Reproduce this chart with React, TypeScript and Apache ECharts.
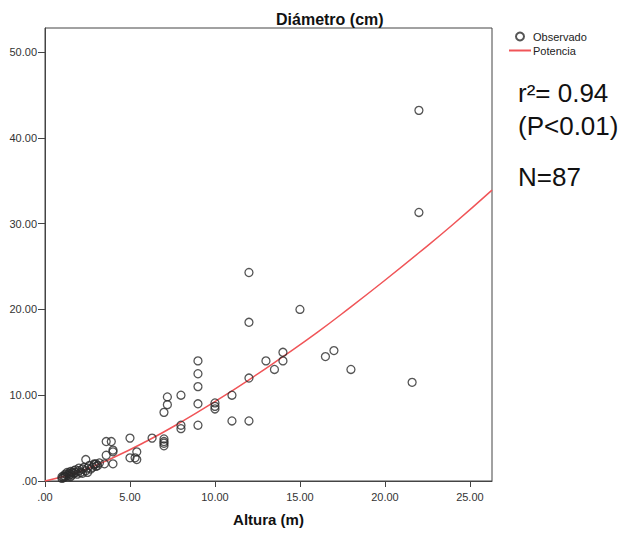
import React, { useEffect, useRef } from "react";
import * as echarts from "echarts";

const obsX = [
  22, 22, 12, 12, 15, 14, 14, 13, 13.5, 12, 16.5, 17, 18, 21.6, 11, 11, 12, 10, 10, 10,
  9, 9, 9, 9, 9, 8, 8, 8, 7.2, 7.2, 7, 7, 7, 7, 7, 6.3, 5, 5, 5.3, 5.4,
  5.4, 3.6, 3.9, 4, 4, 3.6, 3.5, 4, 2.4, 2.9,
  1.0, 1.0, 1.1, 1.1, 1.2, 1.2, 1.3, 1.3, 1.4, 1.4, 1.5, 1.5, 1.5, 1.6, 1.6, 1.7, 1.7, 1.8, 1.8, 1.9,
  2.0, 2.0, 2.1, 2.2, 2.2, 2.3, 2.4, 2.5, 2.5, 2.6, 2.7, 2.8, 2.9, 3.0, 3.0, 3.1, 3.2,
];
const obsY = [
  43.2, 31.3, 24.3, 18.5, 20, 15, 14, 14, 13, 12, 14.5, 15.2, 13, 11.5, 10, 7, 7, 9.1, 8.7, 8.4,
  14, 12.5, 11, 9, 6.5, 10, 6.5, 6.1, 9.8, 8.9, 8, 4.9, 4.6, 4.4, 4.1, 5, 5, 2.7, 2.7, 3.4,
  2.5, 4.6, 4.6, 3.6, 3.4, 3.0, 2.0, 2.0, 2.5, 2.0,
  0.3, 0.5, 0.6, 0.4, 0.8, 0.5, 0.7, 1.0, 0.6, 0.9, 0.8, 1.1, 0.5, 1.0, 0.7, 1.2, 0.9, 1.0, 1.3, 0.8,
  1.2, 1.5, 1.0, 1.4, 0.9, 1.6, 1.2, 1.5, 1.0, 1.8, 1.4, 1.6, 1.9, 1.7, 2.0, 1.8, 2.1,
];

const fitX = [0, 2, 4, 6, 8, 10, 12, 14, 16, 18, 20, 22, 24, 26.3];
const fitY = [0, 1.07, 2.71, 4.66, 6.86, 9.26, 11.8, 14.5, 17.3, 20.3, 23.4, 26.6, 29.9, 33.9];

const xTicks = [0, 5, 10, 15, 20, 25];
const yTicks = [0, 10, 20, 30, 40, 50];

const fmt = (v: number) => (v === 0 ? ".00" : v.toFixed(2));

export default function App() {
  const ref = useRef<HTMLDivElement>(null);
  useEffect(() => {
    if (!ref.current) return;
    const chart = echarts.init(ref.current, undefined, { renderer: "svg" });
    const font = "'Liberation Sans', Arial, sans-serif";
    const axisCommon = {
      axisLine: { show: true, onZero: false, lineStyle: { color: "#444", width: 1 } },
      splitLine: { show: false },
    };
    chart.setOption({
      animation: false,
      backgroundColor: "#fff",
      textStyle: { fontFamily: font },
      title: {
        text: "Diámetro (cm)",
        left: 271,
        top: 6,
        textStyle: { fontSize: 16, fontWeight: "bold", color: "#111", fontFamily: font },
      },
      legend: {
        orient: "vertical",
        left: 503,
        top: 26,
        itemWidth: 22,
        itemHeight: 8,
        itemGap: 3,
        textStyle: { fontSize: 11, color: "#222", fontFamily: font, padding: [0, 0, 0, -3] },
        data: [
          { name: "Observado" },
          { name: "Potencia", itemStyle: { opacity: 0 } },
        ],
      },
      grid: {
        left: 45,
        right: 131,
        top: 28,
        bottom: 57,
        show: true,
        borderColor: "#444",
        borderWidth: 1,
        backgroundColor: "transparent",
      },
      xAxis: {
        type: "value",
        min: 0,
        max: 26.3,
        interval: 5,
        ...axisCommon,
        name: "Altura (m)",
        nameLocation: "middle",
        nameGap: 31,
        nameTextStyle: { fontSize: 15, fontWeight: "bold", color: "#111", fontFamily: font },
        axisTick: { show: true, length: 6, lineStyle: { color: "#444" }, customValues: xTicks },
        axisLabel: {
          margin: 10,
          fontSize: 11,
          color: "#333",
          fontFamily: font,
          customValues: xTicks,
          formatter: (v: number) => fmt(v),
        },
      },
      yAxis: {
        type: "value",
        min: 0,
        max: 52.8,
        interval: 10,
        ...axisCommon,
        axisTick: { show: true, length: 7, lineStyle: { color: "#444" }, customValues: yTicks },
        axisLabel: {
          margin: 8,
          fontSize: 11,
          color: "#333",
          fontFamily: font,
          customValues: yTicks,
          formatter: (v: number) => fmt(v),
        },
      },
      graphic: [
        { type: "text", left: 518, top: 80, style: { text: "r²= 0.94", fontSize: 26, fill: "#111", fontFamily: font } },
        { type: "text", left: 518, top: 113, style: { text: "(P<0.01)", fontSize: 26, fill: "#111", fontFamily: font } },
        { type: "text", left: 518, top: 164, style: { text: "N=87", fontSize: 26, fill: "#111", fontFamily: font } },
      ],
      series: [
        {
          name: "Observado",
          type: "scatter",
          symbol: "circle",
          symbolSize: 8,
          itemStyle: { color: "rgba(255,255,255,0)", borderColor: "#2a2a2a", borderWidth: 1.3 },
          data: obsX.map((x, i) => [x, obsY[i]]),
          z: 3,
        },
        {
          name: "Potencia",
          type: "line",
          symbol: "none",
          smooth: true,
          lineStyle: { color: "#f05558", width: 1.5 },
          itemStyle: { color: "#f05558" },
          data: fitX.map((x, i) => [x, fitY[i]]),
          z: 2,
        },
      ],
    });
    return () => chart.dispose();
  }, []);
  return (
    <div
      ref={ref}
      style={{ position: "fixed", left: 0, top: 0, width: 623, height: 538, background: "#fff" }}
    />
  );
}
